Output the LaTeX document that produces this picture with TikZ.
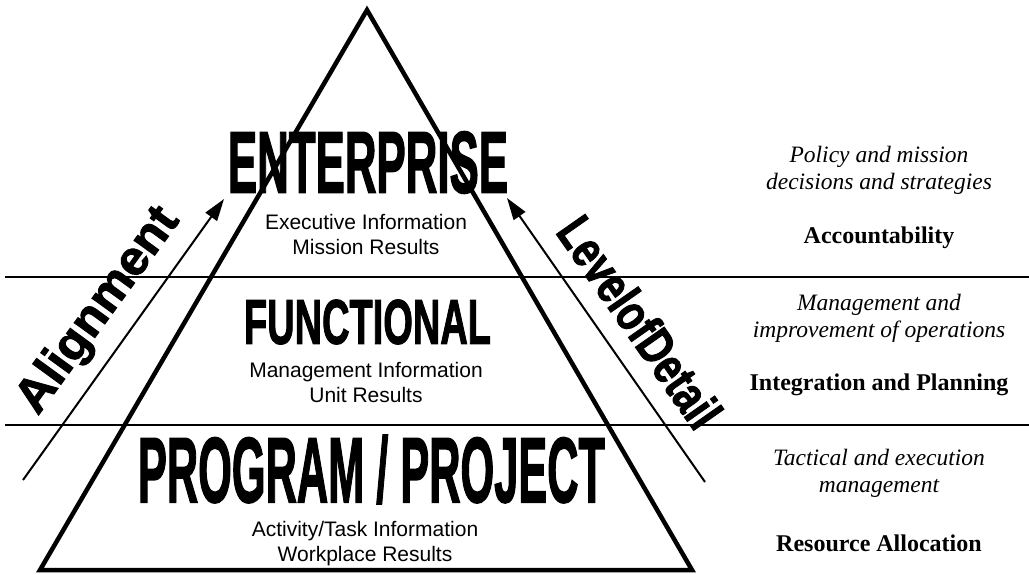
\documentclass[tikz,border=0pt]{standalone}
\usepackage{fontspec}
\usepackage{graphicx}
\usetikzlibrary{arrows.meta}
\setmainfont{Liberation Serif}
\newfontfamily\arialf{Liberation Sans}
\newfontface\heavyf[FakeBold=2]{Liberation Sans Bold}
\begin{document}
\begin{tikzpicture}[x=1pt,y=-1pt,
  sepline/.style={line width=1.6pt},
  tri/.style={line width=4.5pt, line join=miter},
  updown/.style={line width=2pt, -{Triangle[length=22pt,width=14pt]}},
  info/.style={font=\arialf\fontsize{21}{25}\selectfont, align=center, inner sep=0},
  duty/.style={font=\itshape\fontsize{23.5}{27}\selectfont, align=center, inner sep=0},
  keyword/.style={font=\bfseries\fontsize{24}{27}\selectfont, inner sep=0},
  big/.style={inner sep=0},
]
\useasboundingbox (0,0) rectangle (1029,575);
% separator lines
\coordinate (s1a) at (5,277);  \coordinate (s1b) at (1029,277);
\coordinate (s2a) at (5,425);  \coordinate (s2b) at (1029,425);
\draw[sepline] (s1a) -- (s1b);
\draw[sepline] (s2a) -- (s2b);
% pyramid
\coordinate (apex) at (367,10);
\coordinate (bl) at (40,570);
\coordinate (br) at (692,570);
\draw[tri] (apex) -- (br) -- (bl) -- cycle;
% level names
\node[big] (ent) at (368,162.5) {\resizebox{280pt}{61pt}{\heavyf ENTERPRISE}};
\node[big] (fun) at (367.5,322) {\resizebox{247pt}{44pt}{\heavyf FUNCTIONAL}};
\node[big] (prg) at (371.5,469.5) {\resizebox{467pt}{67pt}{\heavyf PROGRAM / PROJECT}};
% info
\node[info] (entinfo) at (366,234) {Executive Information\\Mission Results};
\node[info] (funinfo) at (366,382) {Management Information\\Unit Results};
\node[info] (prginfo) at (365,544) {Activity/Task Information\\Workplace Results};
% arrows
\coordinate (a1s) at (23,480); \coordinate (a1e) at (224,199);
\coordinate (a2s) at (705,482); \coordinate (a2e) at (507,198);
\draw[updown] (a1s) -- (a1e);
\draw[updown] (a2s) -- (a2e);
% rotated labels
\node[big, rotate=54] (align) at (99,311) {\resizebox{242pt}{35pt}{\heavyf Alignment}};
\node[big, rotate=-55] (detail) at (640,322) {\resizebox{245pt}{37pt}{\heavyf LevelofDetail}};
% right column
\node[duty] (d1) at (879,170) {Policy and mission\\decisions and strategies};
\node[keyword] (k1) at (879,238) {Accountability};
\node[duty] (d2) at (879,318) {Management and\\improvement of operations};
\node[keyword] (k2) at (879,385) {Integration and Planning};
\node[duty] (d3) at (879,473) {Tactical and execution\\management};
\node[keyword] (k3) at (879,543) {Resource Allocation};
\end{tikzpicture}
\end{document}
